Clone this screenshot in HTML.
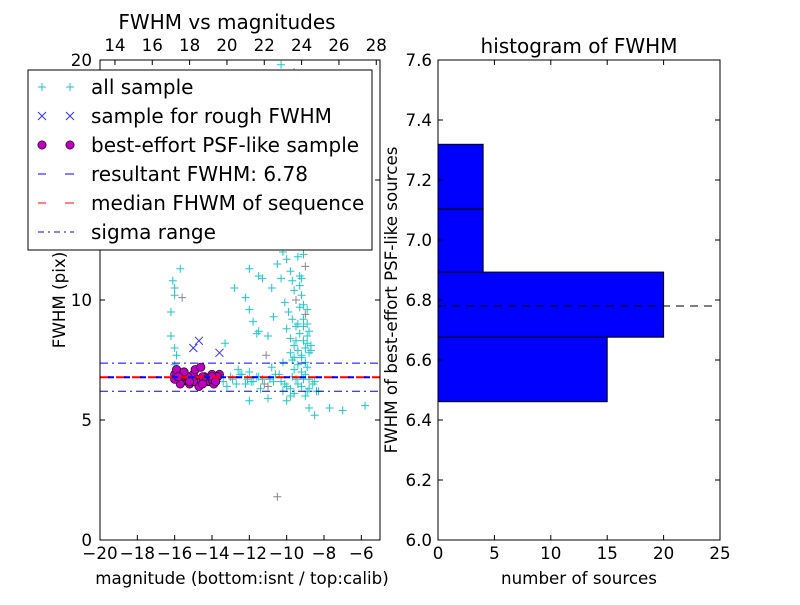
<!DOCTYPE html>
<html><head><meta charset="utf-8"><style>
body{margin:0;background:#fff;}
svg{font-family:"DejaVu Sans","Liberation Sans",sans-serif;}
</style></head><body>
<svg id="c" width="800" height="600" xmlns="http://www.w3.org/2000/svg"></svg>
<script>
const allMag=[-16.1,-16.0,-15.7,-16.0,-15.6,-16.2,-16.2,-16.0,-15.9,-16.0,-15.9,-13.3,-12.8,-12.0,-12.2,-12.0,-11.5,-11.3,-11.8,-11.5,-11.0,-11.1,-11.6,-10.7,-10.5,-10.3,-10.8,
-10.2,-10.0,-9.9,-9.8,-9.7,-9.6,-9.5,-9.4,-9.3,-9.2,-9.1,-9.0,-8.9,-10.1,-9.9,-9.7,-9.5,-9.3,-9.1,-9.0,-8.8,-10.0,-9.8,-9.6,-9.4,-9.2,-9.0,-8.9,-9.5,-9.3,-9.1,-8.9,-9.7,-9.4,-9.2,-9.0,-8.8,-9.6,-9.3,-9.1,-8.9,-10.2,-9.8,-9.5,-9.2,-9.0,-8.8,-8.7,-9.3,-9.1,-8.9,-8.7,-9.6,-9.4,-9.2,
-13.4,-13.0,-12.7,-12.4,-12.1,-11.8,-11.5,-11.2,-10.9,-10.6,-10.3,-10.0,-9.7,-9.4,-9.1,-8.8,-8.5,-13.2,-12.9,-12.5,-12.2,-11.9,-11.6,-11.3,-11.0,-10.7,-10.4,-10.1,-9.8,-9.5,-9.2,-8.9,-8.6,-12.6,-12.0,-11.4,-10.8,-10.2,-9.6,-9.0,-8.4,
-10.5,-8.5,-7.0,-5.8,-7.7,-9.8,-10.0,-11.0,-12.0,-8.8,-10.3,-9.6,-9.9,-9.1,-8.3];
const allFwhm=[10.8,10.5,11.3,10.2,10.1,9.5,8.5,8.0,7.7,7.3,7.0,8.2,10.5,11.3,10.1,9.6,11.0,10.9,9.1,8.7,8.5,7.7,8.6,9.3,11.5,10.9,10.5,
12.0,11.7,12.5,11.2,10.8,10.4,12.3,11.8,11.0,10.2,9.8,9.4,9.0,9.9,9.5,9.2,8.9,8.6,8.3,8.0,7.8,8.8,8.4,8.1,7.9,7.6,7.4,7.2,10.0,9.7,8.9,8.5,7.5,7.3,7.0,6.9,6.7,7.1,10.6,9.2,8.2,7.4,7.8,8.3,10.9,11.4,8.7,7.9,12.6,11.9,9.6,8.1,7.6,9.0,7.7,
6.6,6.8,6.5,6.9,6.7,6.6,6.8,6.5,6.7,6.9,6.6,6.4,6.8,6.5,6.7,6.3,6.6,6.4,6.7,6.9,6.5,6.6,6.8,6.7,6.4,6.6,6.9,6.5,6.3,6.7,6.4,6.2,6.5,7.1,7.0,6.3,7.2,6.2,6.1,6.0,6.2,
1.8,5.2,5.4,5.6,5.5,6.0,5.8,5.9,5.8,5.5,19.8,19.5,12.8,13.0,6.2];
const roughMag=[-15.0,-14.7,-13.6];
const roughFwhm=[8.0,8.3,7.8];
const bestMag=[-16.0,-15.8,-15.6,-15.4,-15.2,-15.0,-14.8,-14.6,-14.4,-14.2,-14.0,-13.8,-13.6,-15.9,-15.7,-15.5,-15.3,-15.1,-14.9,-14.7,-14.5,-14.3,-14.1,-13.9,-13.7,-16.0,-15.5,-15.0,-14.5,-14.0,-15.8,-15.2,-14.6,-14.0,-13.8];
const bestFwhm=[6.9,6.7,6.6,6.8,6.5,6.9,6.7,6.6,6.8,6.6,6.9,6.7,6.9,7.1,6.5,7.0,6.8,6.6,7.1,6.4,6.8,6.7,6.6,6.5,6.8,6.7,7.0,6.6,6.5,6.7,6.8,6.6,7.2,6.8,6.6];
const histEdges=[6.461,6.676,6.893,7.104,7.319];
const histCounts=[15,20,4,4];
const resultFwhm=6.78, medianFwhm=6.78, sigLo=6.2, sigHi=7.37;
const xTicks=[-20,-18,-16,-14,-12,-10,-8,-6];
const yTicks=[0,5,10,15,20];
const topTicks=[14,16,18,20,22,24,26,28];
const hxTicks=[0,5,10,15,20,25];
const hyTicks=[6.0,6.2,6.4,6.6,6.8,7.0,7.2,7.4,7.6];

const TF=16.7, HF=20;
const NS='http://www.w3.org/2000/svg', svg=document.getElementById('c');
function el(t,a,p){const e=document.createElementNS(NS,t);for(const k in a)e.setAttribute(k,a[k]);(p||svg).appendChild(e);return e;}
function txt(s,a,p){const e=el('text',a,p);e.textContent=s;return e;}
const L={x0:100,x1:380,y0:540,y1:60};
const sx=m=>L.x0+(m+20)/15*(L.x1-L.x0), sy=f=>L.y0-f/20*(L.y0-L.y1);
const stx=t=>sx(t-33.2);
const g1=el('g',{});

const clip=el('clipPath',{id:'cl'});el('rect',{x:L.x0,y:L.y1,width:L.x1-L.x0,height:L.y0-L.y1},clip);
const pts=el('g',{'clip-path':'url(#cl)'},g1);
allMag.forEach((m,i)=>{const x=sx(m),y=sy(allFwhm[i]);const p=el('path',{d:`M${x-4},${y}h8M${x},${y-4}v8`,stroke:(i%17==4)?'#888':'#1ec8c8','stroke-width':1,fill:'none'},pts);
});
roughMag.forEach((m,i)=>{const x=sx(m),y=sy(roughFwhm[i]);const p=el('path',{d:`M${x-4},${y-4}l8,8M${x-4},${y+4}l8,-8`,stroke:'#3030ff','stroke-width':1},pts);
});
bestMag.forEach((m,i)=>{const c=el('circle',{cx:sx(m),cy:sy(bestFwhm[i]),r:4.2,fill:'#bf00bf',stroke:'#000','stroke-width':0.6},pts);
});
let h;
h=el('line',{x1:L.x0,x2:L.x1,y1:sy(sigHi),y2:sy(sigHi),stroke:'#0000ff','stroke-dasharray':'8,4,2,4'},pts);
h=el('line',{x1:L.x0,x2:L.x1,y1:sy(sigLo),y2:sy(sigLo),stroke:'#0000ff','stroke-dasharray':'8,4,2,4'},pts);
h=el('line',{x1:L.x0,x2:L.x1,y1:sy(medianFwhm),y2:sy(medianFwhm),stroke:'#ff0000','stroke-width':2,'stroke-dasharray':'10,6'},pts);
h=el('line',{x1:L.x0+8,x2:L.x1,y1:sy(resultFwhm),y2:sy(resultFwhm),stroke:'#0000ff','stroke-width':2,'stroke-dasharray':'6,10'},pts);
el('rect',{x:L.x0,y:L.y1,width:L.x1-L.x0,height:L.y0-L.y1,fill:'none',stroke:'#000'},g1);
xTicks.forEach(t=>{const x=sx(t);el('line',{x1:x,x2:x,y1:L.y0,y2:L.y0-5,stroke:'#000'},g1);
const e=txt('\u2212'+Math.abs(t),{x:x,y:559,'font-size':TF,'text-anchor':'middle'},g1);});
topTicks.forEach(t=>{const x=stx(t);el('line',{x1:x,x2:x,y1:L.y1,y2:L.y1+5,stroke:'#000'},g1);
const e=txt(t,{x:x,y:51,'font-size':TF,'text-anchor':'middle'},g1);});
yTicks.forEach(t=>{const y=sy(t);el('line',{x1:L.x0,x2:L.x0+5,y1:y,y2:y,stroke:'#000'},g1);el('line',{x1:L.x1,x2:L.x1-5,y1:y,y2:y,stroke:'#000'},g1);
const e=txt(t,{x:L.x0-8,y:y+6,'font-size':TF,'text-anchor':'end'},g1);});
let t;
t=txt('FWHM vs magnitudes',{x:227,y:29,'font-size':HF,'text-anchor':'middle'});
t=txt('magnitude (bottom:isnt / top:calib)',{x:242,y:584,'font-size':TF,'text-anchor':'middle'});
t=txt('FWHM (pix)',{x:0,y:0,'font-size':TF,'text-anchor':'middle',transform:'translate(65,300) rotate(-90)'});
const lg=el('g',{});
el('rect',{x:28,y:70,width:344,height:180,fill:'#fff',stroke:'#000'},lg);
const labels=['all sample','sample for rough FWHM','best-effort PSF-like sample','resultant FWHM: 6.78','median FHWM of sequence','sigma range'];
labels.forEach((s,i)=>{const y=87+i*29;const eg=el('g',{},lg);
if(i==0)[42,70].forEach(x=>el('path',{d:`M${x-4},${y}h8M${x},${y-4}v8`,stroke:'#1ec8c8'},eg));
if(i==1)[42,70].forEach(x=>el('path',{d:`M${x-4},${y-4}l8,8M${x-4},${y+4}l8,-8`,stroke:'#3030ff'},eg));
if(i==2)[42,70].forEach(x=>el('circle',{cx:x,cy:y,r:4.2,fill:'#bf00bf',stroke:'#000','stroke-width':0.6},eg));
if(i==3){el('line',{x1:38,x2:46,y1:y,y2:y,stroke:'#0000ff'},eg);el('line',{x1:65,x2:74,y1:y,y2:y,stroke:'#0000ff'},eg);}
if(i==4){el('line',{x1:38,x2:46,y1:y,y2:y,stroke:'#ff0000'},eg);el('line',{x1:65,x2:74,y1:y,y2:y,stroke:'#ff0000'},eg);}
if(i==5)el('line',{x1:38,x2:74,y1:y,y2:y,stroke:'#0000ff','stroke-dasharray':'6,4,2,4'},eg);
txt(s,{x:91,y:y+7,'font-size':HF},eg);});
const R={x0:438,x1:720,y0:540,y1:60};
const hx=v=>R.x0+v/25*(R.x1-R.x0), hy=v=>R.y0-(v-6)/1.6*(R.y0-R.y1);
const g2=el('g',{});
histCounts.forEach((c,i)=>{const r=el('rect',{x:hx(0),y:hy(histEdges[i+1]),width:hx(c)-hx(0),height:hy(histEdges[i])-hy(histEdges[i+1]),fill:'#0000ff',stroke:'#000','stroke-width':1},g2);
});
h=el('line',{x1:hx(0),x2:hx(24.5),y1:hy(resultFwhm),y2:hy(resultFwhm),stroke:'#000','stroke-dasharray':'8,6'},g2);
el('rect',{x:R.x0,y:R.y1,width:R.x1-R.x0,height:R.y0-R.y1,fill:'none',stroke:'#000'},g2);
hxTicks.forEach(v=>{const x=hx(v);el('line',{x1:x,x2:x,y1:R.y0,y2:R.y0-5,stroke:'#000'},g2);el('line',{x1:x,x2:x,y1:R.y1,y2:R.y1+5,stroke:'#000'},g2);
const e=txt(v,{x:x,y:559,'font-size':TF,'text-anchor':'middle'},g2);});
hyTicks.forEach(v=>{const y=hy(v);el('line',{x1:R.x0,x2:R.x0+5,y1:y,y2:y,stroke:'#000'},g2);el('line',{x1:R.x1,x2:R.x1-5,y1:y,y2:y,stroke:'#000'},g2);
const e=txt(v.toFixed(1),{x:R.x0-6,y:y+6,'font-size':TF,'text-anchor':'end'},g2);});
t=txt('histogram of FWHM',{x:579,y:53,'font-size':HF,'text-anchor':'middle'});
t=txt('number of sources',{x:579,y:584,'font-size':TF,'text-anchor':'middle'});
t=txt('FWHM of best-effort PSF-like sources',{x:0,y:0,'font-size':TF,'text-anchor':'middle',transform:'translate(397,300) rotate(-90)'});
</script>
</body></html>
